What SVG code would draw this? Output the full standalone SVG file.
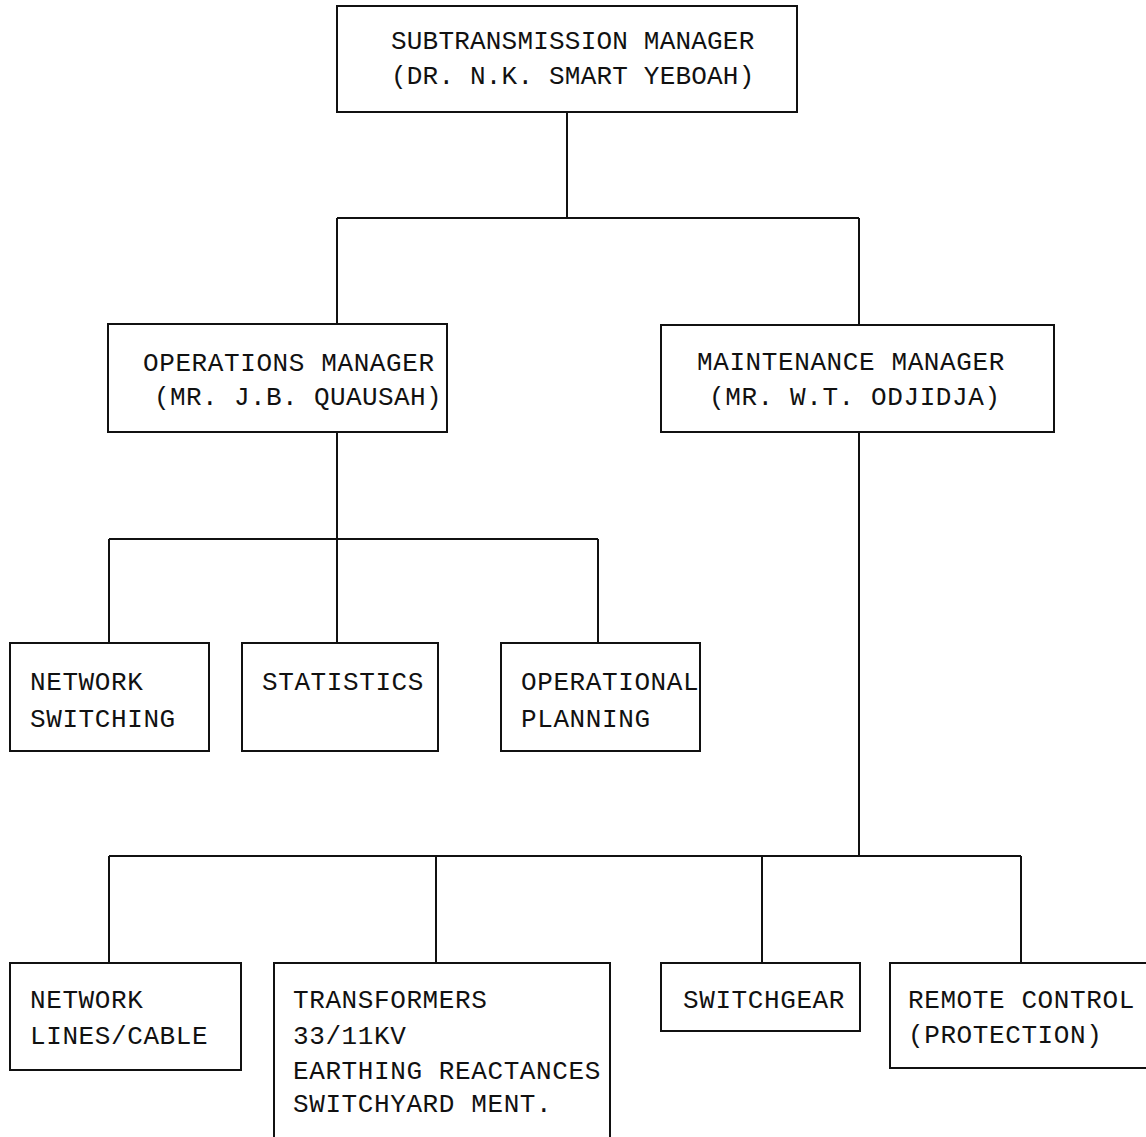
<svg xmlns="http://www.w3.org/2000/svg" width="1146" height="1137" viewBox="0 0 1146 1137">
<style>
.box{fill:none;stroke:#111;stroke-width:2}
.ln{fill:none;stroke:#111;stroke-width:2}
text{font-family:"Liberation Mono","DejaVu Sans Mono",monospace;font-size:26px;fill:#111;letter-spacing:0.6px}
</style>
<rect width="1146" height="1137" fill="#fff"/>
<g id="connectors">
<path class="ln" d="M567,112 V218 M337,218 H859 M337,218 V324 M859,218 V325"/>
<path class="ln" d="M337,432 V539 M109,539 H598 M109,539 V643 M337,539 V643 M598,539 V643"/>
<path class="ln" d="M859,432 V856 M109,856 H1021 M109,856 V963 M436,856 V963 M762,856 V963 M1021,856 V963"/>
</g>
<g id="n_subtrans">
<rect class="box" x="337" y="6" width="460" height="106"/>
<text x="391" y="49" style="letter-spacing:0.2px">SUBTRANSMISSION MANAGER</text>
<text x="391" y="84" style="letter-spacing:0.2px">(DR. N.K. SMART YEBOAH)</text>
</g>
<g id="n_ops">
<rect class="box" x="108" y="324" width="339" height="108"/>
<text x="143" y="371">OPERATIONS MANAGER</text>
<text x="154" y="405" style="letter-spacing:0.4px">(MR. J.B. QUAUSAH)</text>
</g>
<g id="n_maint">
<rect class="box" x="661" y="325" width="393" height="107"/>
<text x="697" y="370">MAINTENANCE MANAGER</text>
<text x="709" y="405">(MR. W.T. ODJIDJA)</text>
</g>
<g id="n_netsw">
<rect class="box" x="10" y="643" width="199" height="108"/>
<text x="30" y="690">NETWORK</text>
<text x="30" y="727">SWITCHING</text>
</g>
<g id="n_stats">
<rect class="box" x="242" y="643" width="196" height="108"/>
<text x="262" y="690">STATISTICS</text>
</g>
<g id="n_opplan">
<rect class="box" x="501" y="643" width="199" height="108"/>
<text x="521" y="690">OPERATIONAL</text>
<text x="521" y="727">PLANNING</text>
</g>
<g id="n_netlines">
<rect class="box" x="10" y="963" width="231" height="107"/>
<text x="30" y="1008">NETWORK</text>
<text x="30" y="1044">LINES/CABLE</text>
</g>
<g id="n_transf">
<path class="box" d="M274,1140 V963 H610 V1140"/>
<text x="293" y="1008">TRANSFORMERS</text>
<text x="293" y="1044">33/11KV</text>
<text x="293" y="1079">EARTHING REACTANCES</text>
<text x="293" y="1112">SWITCHYARD MENT.</text>
</g>
<g id="n_swgear">
<rect class="box" x="661" y="963" width="199" height="68"/>
<text x="683" y="1008">SWITCHGEAR</text>
</g>
<g id="n_remote">
<path class="box" d="M1150,963 H890 V1068 H1150"/>
<text x="908" y="1008">REMOTE CONTROL</text>
<text x="908" y="1043">(PROTECTION)</text>
</g>
</svg>
